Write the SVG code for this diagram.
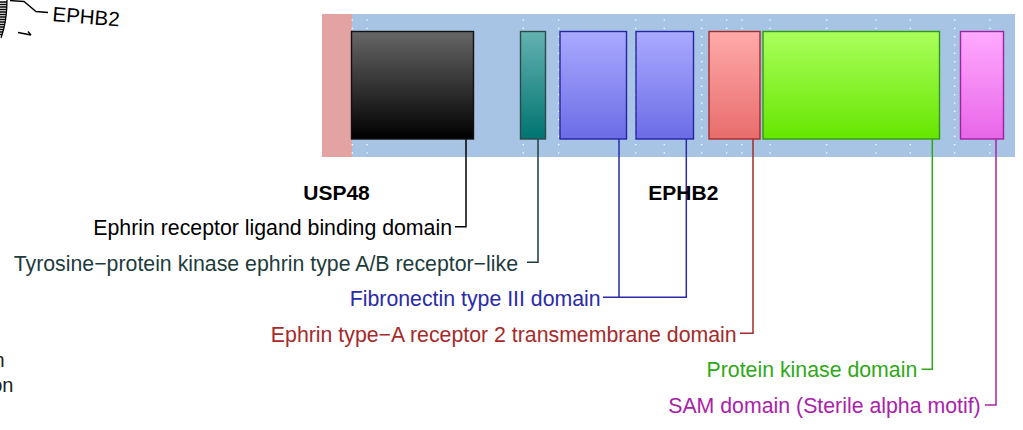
<svg xmlns="http://www.w3.org/2000/svg" width="1023" height="430" viewBox="0 0 1023 430">
<style>
text{font-family:"Liberation Sans",Arial,sans-serif;font-size:21.3px}
.b{font-weight:bold;font-size:21px}
.dot{stroke:#ffffff;stroke-width:1.3;stroke-dasharray:1.3 7;fill:none}
.box{stroke-width:1.4}
.con{fill:none;stroke-width:1.5}
</style>
<defs>
<linearGradient id="gBlack" x1="0" y1="0" x2="0" y2="1"><stop offset="0" stop-color="#666666"/><stop offset="1" stop-color="#000000"/></linearGradient>
<linearGradient id="gTeal" x1="0" y1="0" x2="0" y2="1"><stop offset="0" stop-color="#64b2b0"/><stop offset="1" stop-color="#007470"/></linearGradient>
<linearGradient id="gBlue" x1="0" y1="0" x2="0" y2="1"><stop offset="0" stop-color="#aaaaff"/><stop offset="1" stop-color="#6c6ce6"/></linearGradient>
<linearGradient id="gRed" x1="0" y1="0" x2="0" y2="1"><stop offset="0" stop-color="#ffaaaa"/><stop offset="1" stop-color="#e86c6c"/></linearGradient>
<linearGradient id="gGreen" x1="0" y1="0" x2="0" y2="1"><stop offset="0" stop-color="#aaff5c"/><stop offset="1" stop-color="#66e600"/></linearGradient>
<linearGradient id="gMag" x1="0" y1="0" x2="0" y2="1"><stop offset="0" stop-color="#ffaaff"/><stop offset="1" stop-color="#e866e8"/></linearGradient>
</defs>

<g id="fragment-top-left" fill="none" stroke="#000" stroke-width="1.3">
<path d="M7,0 C7,14 5,27 1,38"/>
<path d="M0,2H7 M0,4.5H7 M0,7H7 M0,9.5H6.8 M0,12H6.6 M0,14.5H6.4 M0,17H6 M0,19.5H5.6 M0,22H5.2 M0,24.5H4.6 M0,27H4 M0,29.5H3.4 M0,32H2.8 M0,34.5H2"/>
<path d="M10,0.5 L24,1.5 L36,11.5 L48,12.5"/>
<path d="M18,32.5 L31,35 M28,31.5 L31,35"/>
<text transform="translate(52,21) rotate(4.6)" x="0" y="0" fill="#000" stroke="none" style="font-size:20.5px">EPHB2</text>
</g>
<g id="fragment-bottom-left">
<text x="4.5" y="367" text-anchor="end" fill="#222" style="font-size:20px">n</text>
<text x="13.5" y="392" text-anchor="end" fill="#222" style="font-size:20px">on</text>
</g>

<g id="track">
<rect x="322" y="14" width="30" height="143" fill="#e4a3a3"/>
<rect x="352" y="14" width="663" height="143" fill="#a8c4e4"/>
<g id="gridlines">
<line class="dot" x1="352.3" y1="19.4" x2="352.3" y2="154"/>
<line class="dot" x1="367" y1="19.4" x2="367" y2="154"/>
<line class="dot" x1="523.3" y1="19.4" x2="523.3" y2="154"/>
<line class="dot" x1="558.7" y1="19.4" x2="558.7" y2="154"/>
<line class="dot" x1="635.7" y1="19.4" x2="635.7" y2="154"/>
<line class="dot" x1="664.3" y1="19.4" x2="664.3" y2="154"/>
<line class="dot" x1="701.7" y1="19.4" x2="701.7" y2="154"/>
<line class="dot" x1="726.7" y1="19.4" x2="726.7" y2="154"/>
<line class="dot" x1="742" y1="19.4" x2="742" y2="154"/>
<line class="dot" x1="770" y1="19.4" x2="770" y2="154"/>
<line class="dot" x1="826.7" y1="19.4" x2="826.7" y2="154"/>
<line class="dot" x1="876" y1="19.4" x2="876" y2="154"/>
<line class="dot" x1="910.3" y1="19.4" x2="910.3" y2="154"/>
<line class="dot" x1="954.7" y1="19.4" x2="954.7" y2="154"/>
<line class="dot" x1="990" y1="19.4" x2="990" y2="154"/>
</g>
</g>

<g id="connectors">
<path class="con" stroke="#000000" d="M466,139 V226.7 H455"/>
<path class="con" stroke="#1e3c3c" d="M538,139 V262.3 H527"/>
<path class="con" stroke="#2a2aaa" d="M619,139 V297.3 M686.3,139 V297.3 H603"/>
<path class="con" stroke="#a52a2a" d="M753,139 V333.3 H740"/>
<path class="con" stroke="#30a818" d="M932.3,139 V369.3 H921.5"/>
<path class="con" stroke="#aa22aa" d="M996,139 V405 H985"/>
</g>

<g id="node-ligand-binding">
<rect class="box" x="351.5" y="31.5" width="122" height="107.5" fill="url(#gBlack)" stroke="#111111"/>
<text x="452" y="235" text-anchor="end" fill="#000000">Ephrin receptor ligand binding domain</text>
</g>
<g id="node-tyrosine-kinase-like">
<rect class="box" x="520.5" y="31.5" width="25" height="107.5" fill="url(#gTeal)" stroke="#2a4a4a"/>
<text x="518" y="270.5" text-anchor="end" fill="#1e3c3c">Tyrosine−protein kinase ephrin type A/B receptor−like</text>
</g>
<g id="node-fibronectin">
<rect class="box" x="560" y="31.5" width="66.5" height="107.5" fill="url(#gBlue)" stroke="#2424a4"/>
<rect class="box" x="636" y="31.5" width="57.5" height="107.5" fill="url(#gBlue)" stroke="#2424a4"/>
<text x="600.7" y="305.5" text-anchor="end" fill="#2a2aaa">Fibronectin type III domain</text>
</g>
<g id="node-transmembrane">
<rect class="box" x="709" y="31.5" width="51" height="107.5" fill="url(#gRed)" stroke="#a52a2a"/>
<text x="736.7" y="341.5" text-anchor="end" fill="#a52a2a">Ephrin type−A receptor 2 transmembrane domain</text>
</g>
<g id="node-protein-kinase">
<rect class="box" x="763" y="31.5" width="176.5" height="107.5" fill="url(#gGreen)" stroke="#2e9a14"/>
<text x="917.3" y="377" text-anchor="end" fill="#30a818">Protein kinase domain</text>
</g>
<g id="node-sam">
<rect class="box" x="960.5" y="31.5" width="43" height="107.5" fill="url(#gMag)" stroke="#a020a0"/>
<text x="980.7" y="413" text-anchor="end" fill="#aa22aa">SAM domain (Sterile alpha motif)</text>
</g>

<g id="titles">
<text class="b" x="336.5" y="200" text-anchor="middle" fill="#000">USP48</text>
<text class="b" x="683.3" y="200" text-anchor="middle" fill="#000">EPHB2</text>
</g>
</svg>
